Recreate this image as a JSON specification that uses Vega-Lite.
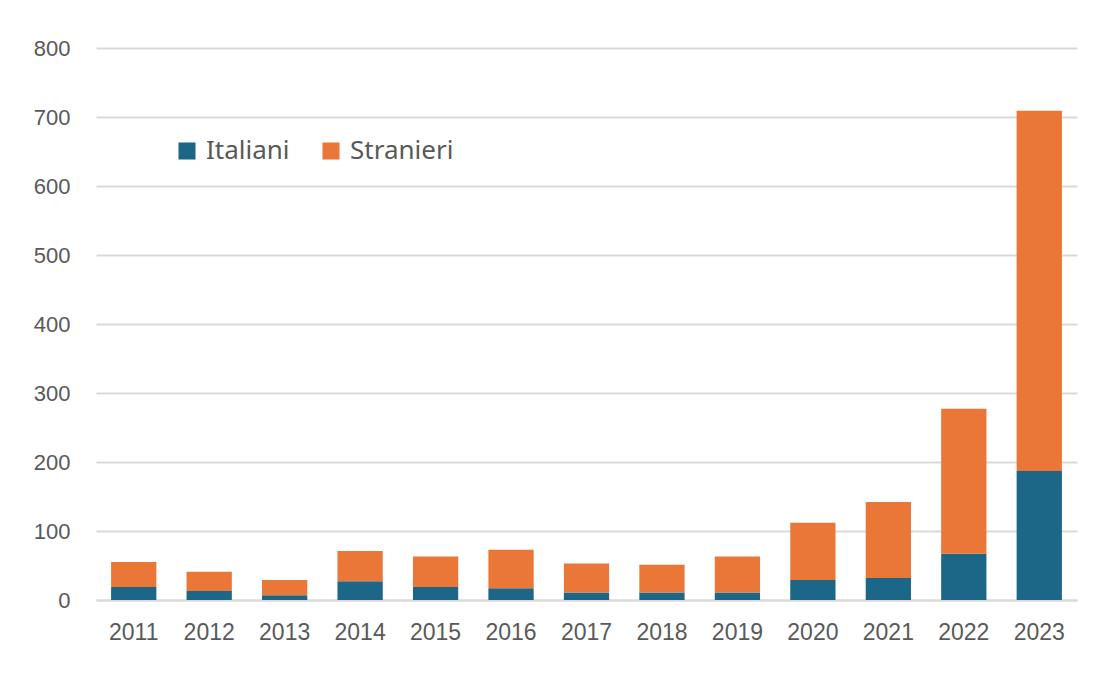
{
  "$schema": "https://vega.github.io/schema/vega-lite/v6.json",
  "autosize": {"type": "none"},
  "padding": {"left": 96, "top": 48, "right": 23, "bottom": 90},
  "width": 981,
  "height": 552,
  "background": "white",
  "config": {
    "view": {"stroke": null},
    "font": "Liberation Sans"
  },
  "data": {
    "values": [
      {"anno": "2011", "gruppo": "Italiani", "valore": 19},
      {"anno": "2011", "gruppo": "Stranieri", "valore": 36},
      {"anno": "2012", "gruppo": "Italiani", "valore": 13},
      {"anno": "2012", "gruppo": "Stranieri", "valore": 28},
      {"anno": "2013", "gruppo": "Italiani", "valore": 7},
      {"anno": "2013", "gruppo": "Stranieri", "valore": 22},
      {"anno": "2014", "gruppo": "Italiani", "valore": 27},
      {"anno": "2014", "gruppo": "Stranieri", "valore": 44},
      {"anno": "2015", "gruppo": "Italiani", "valore": 19},
      {"anno": "2015", "gruppo": "Stranieri", "valore": 44},
      {"anno": "2016", "gruppo": "Italiani", "valore": 17},
      {"anno": "2016", "gruppo": "Stranieri", "valore": 56},
      {"anno": "2017", "gruppo": "Italiani", "valore": 11},
      {"anno": "2017", "gruppo": "Stranieri", "valore": 42},
      {"anno": "2018", "gruppo": "Italiani", "valore": 11},
      {"anno": "2018", "gruppo": "Stranieri", "valore": 40},
      {"anno": "2019", "gruppo": "Italiani", "valore": 11},
      {"anno": "2019", "gruppo": "Stranieri", "valore": 52},
      {"anno": "2020", "gruppo": "Italiani", "valore": 29},
      {"anno": "2020", "gruppo": "Stranieri", "valore": 83},
      {"anno": "2021", "gruppo": "Italiani", "valore": 32},
      {"anno": "2021", "gruppo": "Stranieri", "valore": 110},
      {"anno": "2022", "gruppo": "Italiani", "valore": 67},
      {"anno": "2022", "gruppo": "Stranieri", "valore": 210},
      {"anno": "2023", "gruppo": "Italiani", "valore": 187},
      {"anno": "2023", "gruppo": "Stranieri", "valore": 522}
    ]
  },
  "mark": {"type": "bar"},
  "encoding": {
    "x": {
      "field": "anno",
      "type": "ordinal",
      "scale": {"paddingInner": 0.4, "paddingOuter": 0.2},
      "axis": {
        "title": null,
        "labelAngle": 0,
        "labelFontSize": 23,
        "labelColor": "#595959",
        "labelPadding": 21,
        "ticks": false,
        "domainColor": "#d9d9d9",
        "domainWidth": 2
      }
    },
    "y": {
      "field": "valore",
      "type": "quantitative",
      "aggregate": "sum",
      "stack": "zero",
      "scale": {"domain": [0, 800], "nice": false},
      "axis": {
        "title": null,
        "values": [0, 100, 200, 300, 400, 500, 600, 700, 800],
        "labelFontSize": 22,
        "labelColor": "#595959",
        "labelPadding": 26,
        "ticks": false,
        "domain": false,
        "gridColor": "#d9d9d9",
        "gridWidth": 2
      }
    },
    "color": {
      "field": "gruppo",
      "type": "nominal",
      "scale": {"domain": ["Italiani", "Stranieri"], "range": ["#1c6687", "#ea7638"]},
      "legend": {
        "title": null,
        "orient": "none",
        "legendX": 78,
        "legendY": 90,
        "direction": "horizontal",
        "symbolType": "square",
        "symbolSize": 290,
        "symbolStrokeWidth": 0,
        "labelFontSize": 26,
        "labelColor": "#595959",
        "labelFont": "Noto Sans",
        "columnPadding": 28,
        "labelOffset": 6
      }
    },
    "order": {"field": "gruppo", "sort": "ascending"}
  }
}
